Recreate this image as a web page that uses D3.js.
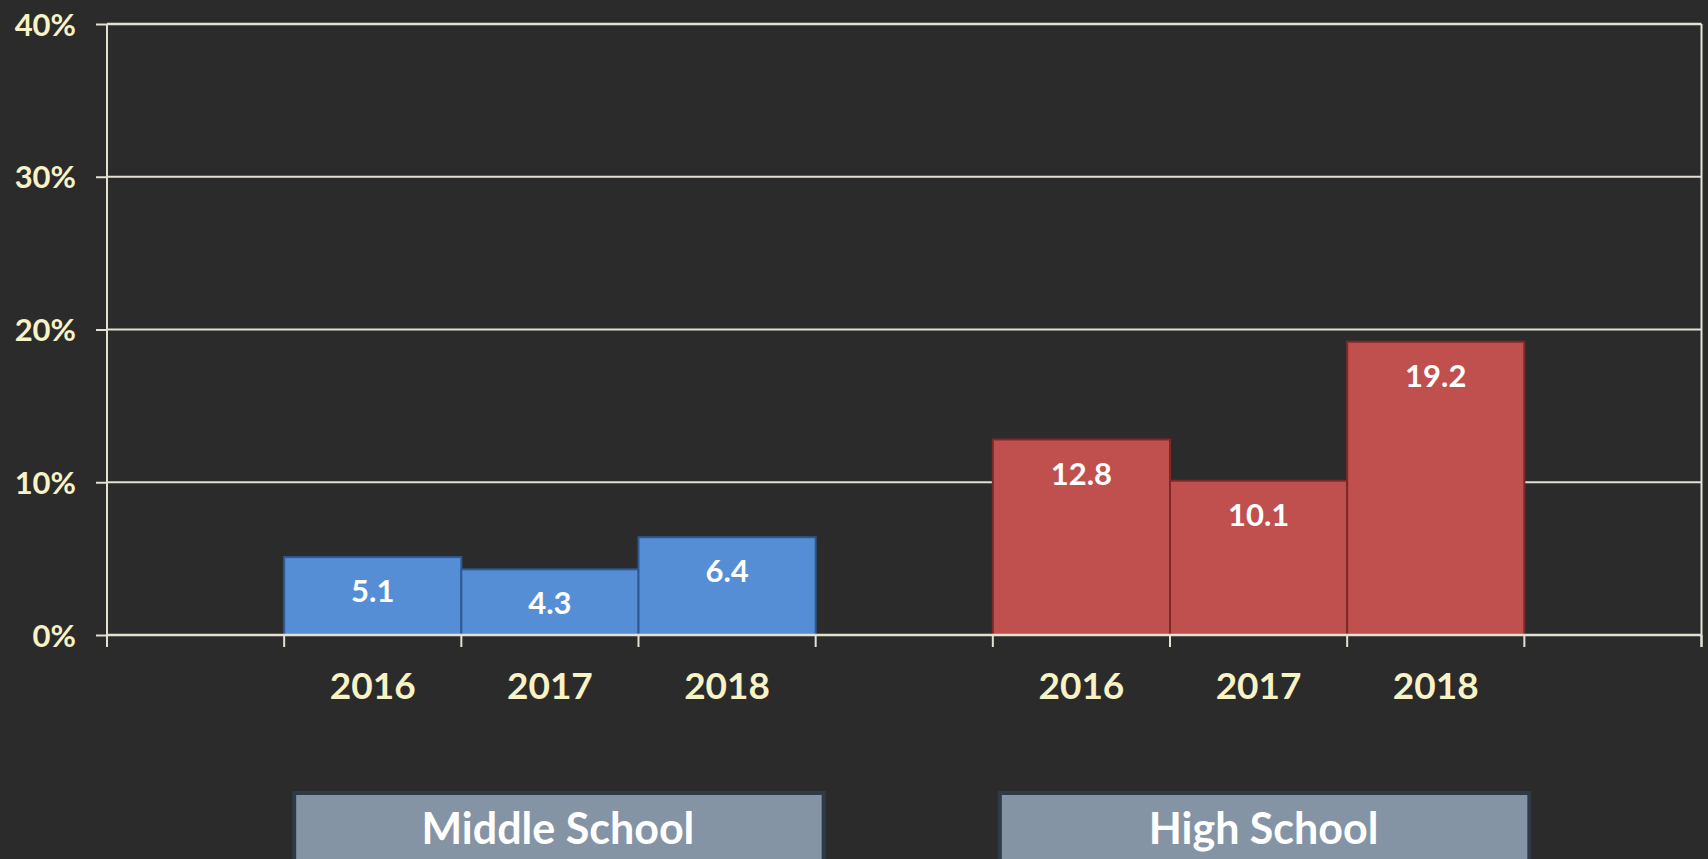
<!DOCTYPE html>
<html>
<head>
<meta charset="utf-8">
<script src="https://cdn.jsdelivr.net/npm/d3@7"></script>
<style>
  html, body { margin: 0; padding: 0; background: #2b2b2b; overflow: hidden; }
  svg { display: block; }
</style>
</head>
<body>
<svg id="chart" width="1708" height="859"></svg>
<script>
// ---- data ----
const groups = ["Middle School", "High School"];
const years = ["2016", "2017", "2018"];
const middleSchool = [5.1, 4.3, 6.4];
const highSchool = [12.8, 10.1, 19.2];
const yTicks = [0, 10, 20, 30, 40];
const yTickLabels = ["0%", "10%", "20%", "30%", "40%"];

const seriesValues = [middleSchool, highSchool];
const fills = ["#558ed5", "#c0504d"];
const strokes = ["#2d5a93", "#7a2b29"];
const boxShift = [8, 5];

// build slot list: empty, 3 bars, empty, 3 bars, empty
const slots = [];
slots.push({ key: "gap0" });
groups.forEach((g, gi) => {
  years.forEach((yr, yi) => slots.push({ key: g + "-" + yr, group: gi, year: yr, value: seriesValues[gi][yi] }));
  slots.push({ key: "gap" + (gi + 1) });
});

const svg = d3.select("#chart");
const plotLeft = 107, plotRight = 1701.5, plotTop = 24, plotBottom = 635;

const x = d3.scaleBand().domain(slots.map(d => d.key)).range([plotLeft, plotRight]).padding(0);
const y = d3.scaleLinear().domain([0, 40]).range([plotBottom, plotTop]);

const lineColor = "#e4e1d2";
const labelColor = "#f7f3c6";

// y axis ticks + labels
const yAxis = d3.axisLeft(y).tickValues(yTicks).tickSize(11).tickFormat((d, i) => yTickLabels[i]);
const gy = svg.append("g").attr("transform", `translate(${plotLeft},0)`).call(yAxis);
gy.select(".domain").remove();
gy.selectAll(".tick line").attr("stroke", lineColor).attr("stroke-width", 2);
gy.selectAll(".tick text")
  .attr("x", -31)
  .attr("dy", "0.36em")
  .attr("fill", labelColor)
  .style("font-family", "Lato, sans-serif")
  .style("font-weight", "bold")
  .style("font-size", "31px");

// gridlines
svg.append("g").selectAll("line").data(yTicks).join("line")
  .attr("x1", plotLeft).attr("x2", plotRight)
  .attr("y1", d => y(d)).attr("y2", d => y(d))
  .attr("stroke", lineColor).attr("stroke-width", d => d === 40 ? 2.5 : 2);

// vertical frame lines
svg.append("line").attr("x1", plotLeft).attr("x2", plotLeft).attr("y1", plotTop).attr("y2", plotBottom + 12)
  .attr("stroke", lineColor).attr("stroke-width", 2);
svg.append("line").attr("x1", plotRight).attr("x2", plotRight).attr("y1", plotTop).attr("y2", plotBottom + 12)
  .attr("stroke", lineColor).attr("stroke-width", 2);

// bars
const barSlots = slots.filter(d => d.value !== undefined);
svg.append("g").selectAll("rect").data(barSlots).join("rect")
  .attr("x", d => x(d.key))
  .attr("width", x.bandwidth())
  .attr("y", d => y(d.value))
  .attr("height", d => y(0) - y(d.value))
  .attr("fill", d => fills[d.group])
  .attr("stroke", d => strokes[d.group])
  .attr("stroke-width", 2);

// baseline redrawn over bars
svg.append("line").attr("x1", plotLeft).attr("x2", plotRight).attr("y1", y(0)).attr("y2", y(0))
  .attr("stroke", lineColor).attr("stroke-width", 2.5);

// bottom ticks at slot boundaries
const boundaries = slots.map(d => x(d.key)).concat([plotRight]);
svg.append("g").selectAll("line").data(boundaries).join("line")
  .attr("x1", d => d).attr("x2", d => d)
  .attr("y1", y(0)).attr("y2", y(0) + 12)
  .attr("stroke", lineColor).attr("stroke-width", 2);

// value labels
svg.append("g").selectAll("text").data(barSlots).join("text")
  .attr("x", d => x(d.key) + x.bandwidth() / 2)
  .attr("y", d => y(d.value) + 34)
  .attr("dy", "0.36em")
  .attr("text-anchor", "middle")
  .attr("fill", "#ffffff")
  .style("font-family", "Lato, sans-serif")
  .style("font-weight", "bold")
  .style("font-size", "31px")
  .text(d => d.value.toFixed(1));

// year labels
svg.append("g").selectAll("text").data(barSlots).join("text")
  .attr("x", d => x(d.key) + x.bandwidth() / 2)
  .attr("y", 686)
  .attr("dy", "0.36em")
  .attr("text-anchor", "middle")
  .attr("fill", labelColor)
  .style("font-family", "Lato, sans-serif")
  .style("font-weight", "bold")
  .style("font-size", "37px")
  .text(d => d.year);

// group label boxes
groups.forEach((g, gi) => {
  const gs = barSlots.filter(d => d.group === gi);
  const x0 = x(gs[0].key) + boxShift[gi];
  const x1 = x(gs[gs.length - 1].key) + x.bandwidth() + boxShift[gi];
  svg.append("rect")
    .attr("x", x0 + 2).attr("y", 793)
    .attr("width", x1 - x0 - 2).attr("height", 80)
    .attr("fill", "#8594a5")
    .attr("stroke", "#2e3a46").attr("stroke-width", 4);
  svg.append("text")
    .attr("x", (x0 + x1) / 2).attr("y", 829)
    .attr("dy", "0.36em")
    .attr("text-anchor", "middle")
    .attr("fill", "#ffffff")
    .style("font-family", "Lato, sans-serif")
    .style("font-weight", "bold")
    .style("font-size", "43px")
    .text(g);
});
</script>
</body>
</html>
